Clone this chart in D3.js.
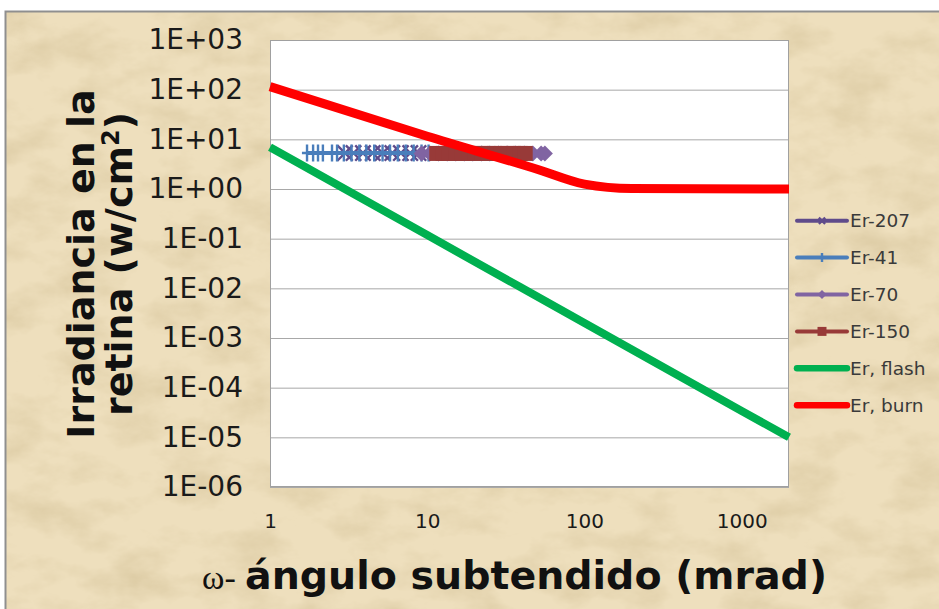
<!DOCTYPE html>
<html>
<head>
<meta charset="utf-8">
<script src="https://cdn.jsdelivr.net/npm/d3@7"></script>
<style>
  body { margin: 0; background: #fff; }
  .axis text { font-family: "DejaVu Sans", Verdana, sans-serif; fill: #1a1a1a; }
  .axis path, .axis line { display: none; }
  .grid line { stroke: #a8a8a8; stroke-width: 1; }
  .grid path, .grid text { display: none; }
  .legend text { font-family: "DejaVu Sans", Verdana, sans-serif; font-size: 18.5px; fill: #3a3a3a; }
  .title { font-family: "DejaVu Sans", Verdana, sans-serif; font-weight: bold; fill: #111; }
</style>
</head>
<body>
<script>
// tick values and labels
const xTicks = [1, 10, 100, 1000];
const yTicks = [1e-6, 1e-5, 1e-4, 1e-3, 1e-2, 1e-1, 1e0, 1e1, 1e2, 1e3];
const yTickLabels = ["1E-06", "1E-05", "1E-04", "1E-03", "1E-02", "1E-01", "1E+00", "1E+01", "1E+02", "1E+03"];

// series: [omega (mrad), irradiance (W/cm2)]
const er207 = [[3.0, 5.3], [3.4, 5.3], [3.9, 5.3], [4.5, 5.3], [5.2, 5.3], [6.0, 5.3], [6.8, 5.3], [7.8, 5.3], [8.8, 5.3]];
const er41 = [[1.72, 5.3], [1.88, 5.3], [2.02, 5.3], [2.17, 5.3], [2.48, 5.3], [2.67, 5.3], [2.95, 5.3], [3.3, 5.3],
              [3.7, 5.3], [4.1, 5.3], [4.6, 5.3], [5.2, 5.3], [5.8, 5.3], [6.5, 5.3], [7.3, 5.3], [8.2, 5.3], [9.2, 5.3], [10.2, 5.3]];
const er70 = [[9.2, 5.2], [10.4, 5.2], [11.8, 5.2], [13.4, 5.2], [15.2, 5.2], [17.2, 5.2], [19.5, 5.2], [22.1, 5.2],
              [25, 5.2], [28.4, 5.2], [32.2, 5.2], [36.5, 5.2], [41.4, 5.2], [47, 5.2], [53, 5.2], [56, 5.2]];
const er150 = [[11.5, 5.2], [12.6, 5.2], [13.8, 5.2], [15.2, 5.2], [16.7, 5.2], [18.4, 5.2], [20.2, 5.2], [22.2, 5.2],
               [24.4, 5.2], [26.8, 5.2], [29.5, 5.2], [32.4, 5.2], [35.6, 5.2], [39, 5.2], [42, 5.2]];
const erFlash = [[1, 6.9], [10, 0.118], [100, 2.0e-3], [1000, 3.4e-5], [2000, 1.0e-5]];
const erBurn = [[1, 115], [10, 11.5], [50, 2.5], [100, 1.25], [200, 1.02], [2000, 1.0]];

const seriesNames = ["Er-207", "Er-41", "Er-70", "Er-150", "Er, flash", "Er, burn"];

let margin = null, width = null, height = null, svg = null, root = null;
let x, y = null;

const styles = {
  "Er-207":    {color: "#5f4b8b", lw: 4, marker: "times"},
  "Er-41":     {color: "#4a7ebb", lw: 4, marker: "plus"},
  "Er-70":     {color: "#8064a2", lw: 4, marker: "diamond"},
  "Er-150":    {color: "#983a38", lw: 4, marker: "square"},
  "Er, flash": {color: "#00b050", lw: 8, marker: null},
  "Er, burn":  {color: "#ff0000", lw: 9, marker: null}
};

setupCanvasSize();
appendSvg("body");
drawBackground();
setupScales();
appendPlotArea();
appendAxes();
appendSeries();
appendLegend();
appendTitles();

function setupCanvasSize() {
  margin = {top: 40, left: 270, bottom: 122, right: 150};
  width = 939 - margin.left - margin.right;
  height = 609 - margin.top - margin.bottom;
}

function appendSvg(domElement) {
  root = d3.select(domElement).append("svg")
    .attr("width", 939)
    .attr("height", 609);
  svg = root.append("g")
    .attr("transform", `translate(${margin.left}, ${margin.top})`);
}

function drawBackground() {
  // parchment look: flat tan plus a soft noise layer
  const defs = root.insert("defs", ":first-child");
  const f = defs.append("filter").attr("id", "parch")
    .attr("x", 0).attr("y", 0).attr("width", 1).attr("height", 1);
  f.append("feTurbulence").attr("type", "fractalNoise")
    .attr("baseFrequency", "0.018 0.03").attr("numOctaves", 5).attr("seed", 11);
  f.append("feColorMatrix").attr("type", "matrix")
    .attr("values", "0 0 0 0 0.62  0 0 0 0 0.5  0 0 0 0 0.28  1.0 0 0 0 -0.42");
  root.insert("rect", "g").attr("x", 5).attr("y", 11).attr("width", 934).attr("height", 598)
    .attr("fill", "#eedfbd");
  root.insert("rect", "g").attr("x", 5).attr("y", 11).attr("width", 934).attr("height", 598)
    .attr("fill", "#000").attr("filter", "url(#parch)");
  root.insert("rect", "g").attr("x", 5.5).attr("y", 11.5).attr("width", 940).attr("height", 600)
    .attr("fill", "none").attr("stroke", "#8f8f8f").attr("stroke-width", 2);
}

function setupScales() {
  x = d3.scaleLog().domain([1, 2000]).range([0, width]);
  y = d3.scaleLog().domain([1e-6, 1e3]).range([height, 0]);
}

function appendPlotArea() {
  svg.append("rect")
    .attr("width", width).attr("height", height)
    .attr("fill", "#fff");
  svg.append("g")
    .attr("class", "grid")
    .call(d3.axisLeft(y).tickValues(yTicks).tickSize(-width).tickFormat(""));
  svg.append("rect")
    .attr("x", 0.5).attr("y", 0.5)
    .attr("width", width - 1).attr("height", height - 1)
    .attr("fill", "none").attr("stroke", "#a0a0a0");
}

function appendAxes() {
  const yAx = svg.append("g")
    .attr("class", "axis")
    .call(d3.axisLeft(y).tickValues(yTicks).tickSize(0).tickPadding(27)
      .tickFormat((d, i) => yTickLabels[i]));
  yAx.selectAll("text").style("font-size", "28px");

  const xAx = svg.append("g")
    .attr("class", "axis")
    .attr("transform", `translate(0, ${height})`)
    .call(d3.axisBottom(x).tickValues(xTicks).tickSize(0).tickPadding(27)
      .tickFormat(d3.format("d")));
  xAx.selectAll("text").style("font-size", "20px");
}

function markerPath(type, s) {
  if (type === "plus") return `M0,${-s}V${s}M${-s * 0.6},0H${s * 0.6}`;
  if (type === "times") return `M${-s * 0.7},${-s * 0.7}L${s * 0.7},${s * 0.7}M${-s * 0.7},${s * 0.7}L${s * 0.7},${-s * 0.7}`;
  if (type === "diamond") return `M0,${-s}L${s},0L0,${s}L${-s},0Z`;
  if (type === "square") return `M${-s},${-s}H${s}V${s}H${-s}Z`;
  return "";
}

function drawMarkers(g, type, color, s) {
  const stroked = (type === "plus" || type === "times");
  g.attr("d", markerPath(type, s))
    .attr("fill", stroked ? "none" : color)
    .attr("stroke", color)
    .attr("stroke-width", stroked ? 2.4 : 0);
}

function appendSeries() {
  const datasets = [er207, er41, er70, er150, erFlash, erBurn];
  const straight = d3.line().x(d => x(d[0])).y(d => y(d[1]));
  const smooth = d3.line().x(d => x(d[0])).y(d => y(d[1])).curve(d3.curveMonotoneX);
  const markerSize = {square: 7.5, diamond: 8, plus: 8.5, times: 11};

  datasets.forEach((data, i) => {
    const st = styles[seriesNames[i]];
    const g = svg.append("g");
    g.append("path")
      .datum(data)
      .attr("fill", "none")
      .attr("stroke", st.color)
      .attr("stroke-width", st.lw)
      .attr("stroke-linejoin", "round")
      .attr("d", st.marker ? straight : smooth);
    if (st.marker) {
      g.selectAll("path.mk")
        .data(data)
        .enter().append("path")
        .attr("class", "mk")
        .attr("transform", d => `translate(${x(d[0])}, ${y(d[1])})`)
        .call(sel => drawMarkers(sel, st.marker, st.color, markerSize[st.marker]));
    }
  });
}

function appendLegend() {
  const legend = root.append("g").attr("class", "legend");
  seriesNames.forEach((name, i) => {
    const st = styles[name];
    const cy = 220.7 + i * 36.9;
    const item = legend.append("g").attr("transform", `translate(797, ${cy})`);
    item.append("line")
      .attr("x1", 0).attr("x2", 50)
      .attr("stroke", st.color)
      .attr("stroke-width", st.marker ? 4 : 6.5)
      .attr("stroke-linecap", "round");
    if (st.marker) {
      item.append("path")
        .attr("transform", "translate(25, 0)")
        .call(sel => drawMarkers(sel, st.marker, st.color, 4.5));
    }
    item.append("text")
      .attr("x", 53).attr("dy", "0.36em")
      .text(name);
  });
}

function appendTitles() {
  const yt = root.append("text")
    .attr("class", "title")
    .attr("transform", "translate(94, 264) rotate(-90)")
    .attr("text-anchor", "middle")
    .style("font-size", "38px");
  yt.append("tspan").attr("x", 0).attr("y", 0).text("Irradiancia en la");
  const l2 = yt.append("tspan").attr("x", 0).attr("y", 38).text("retina (w/cm");
  l2.append("tspan").attr("dy", -13).style("font-size", "24px").text("2");
  l2.append("tspan").attr("dy", 13).text(")");

  root.append("text")
    .attr("x", 202).attr("y", 589)
    .style("font-family", "\"Liberation Serif\", \"Times New Roman\", serif")
    .style("font-size", "34px")
    .attr("fill", "#111")
    .text("ω-");
  root.append("text")
    .attr("class", "title")
    .attr("x", 245).attr("y", 589)
    .style("font-size", "39.5px")
    .text("ángulo subtendido (mrad)");
}
</script>
</body>
</html>
